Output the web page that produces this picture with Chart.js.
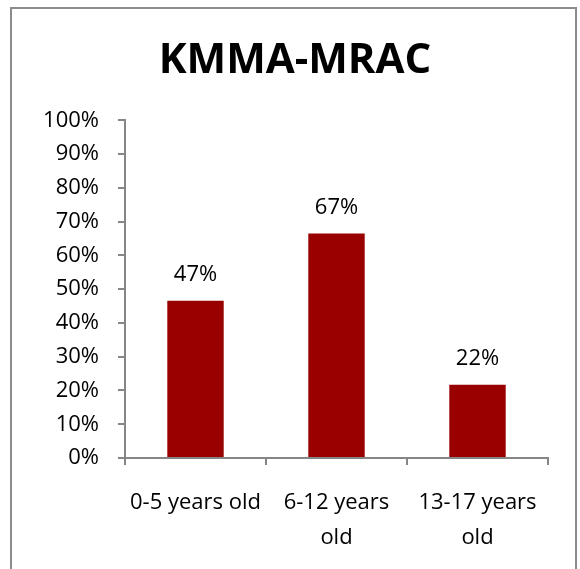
<!DOCTYPE html>
<html>
<head>
<meta charset="utf-8">
<script src="https://cdn.jsdelivr.net/npm/chart.js@4"></script>
<style>
  html, body { margin: 0; padding: 0; background: #fff; }
  #wrap { position: relative; width: 580px; height: 569px; overflow: hidden; }
  #frame { position: absolute; left: 10px; top: 7px; width: 563px; height: 600px; border: 2px solid #8c8c8c; }
  canvas { position: absolute; left: 0; top: 0; }
</style>
</head>
<body>
<div id="wrap">
  <div id="frame"></div>
  <canvas id="graph" width="580" height="569"></canvas>
</div>
<script>
var categories = [['0-5 years old'], ['6-12 years', 'old'], ['13-17 years', 'old']];
var values = [46.6, 66.5, 21.7];
var valueLabels = ['47%', '67%', '22%'];
var yTicks = [0, 10, 20, 30, 40, 50, 60, 70, 80, 90, 100];

var font = "'Open Sans', 'Liberation Sans', sans-serif";

// labels above bars
var barLabels = {
    id: 'barLabels',
    afterDatasetsDraw: function(chart) {
        var ctx = chart.ctx;
        var meta = chart.getDatasetMeta(0);
        ctx.save();
        ctx.font = '22px ' + font;
        ctx.fillStyle = '#000';
        ctx.textAlign = 'center';
        ctx.textBaseline = 'middle';
        meta.data.forEach(function(bar, i) {
            ctx.fillText(valueLabels[i], bar.x, bar.y - 26);
        });
        ctx.restore();
    }
};

var ctx = document.getElementById('graph');
var chart = new Chart(ctx, {
    type: 'bar',
    data: {
        labels: categories,
        datasets: [{
            data: values,
            backgroundColor: '#990000',
            categoryPercentage: 1,
            barPercentage: 0.4
        }]
    },
    options: {
        responsive: false,
        animation: false,
        layout: { padding: { left: 42, right: 32, top: 0, bottom: 0 } },
        plugins: {
            legend: { display: false },
            tooltip: { enabled: false },
            title: {
                display: true,
                text: 'KMMA-MRAC',
                color: '#000',
                font: { family: font, size: 42, weight: 'bold' },
                padding: { top: 36, bottom: 34 }
            }
        },
        scales: {
            x: {
                grid: { offset: true, drawOnChartArea: false, tickLength: 7, color: '#868686', lineWidth: 2 },
                border: { color: '#868686', width: 2 },
                ticks: { color: '#000', font: { family: font, size: 22, lineHeight: 1.6 }, padding: 20, maxRotation: 0 },
                afterFit: function(scale) { scale.height = 569 - 458; }
            },
            y: {
                min: 0,
                max: 100,
                afterBuildTicks: function(scale) {
                    scale.ticks = yTicks.map(function(v) { return { value: v }; });
                },
                grid: { drawOnChartArea: false, tickLength: 7, color: '#868686', lineWidth: 2 },
                border: { color: '#868686', width: 2 },
                ticks: {
                    color: '#000',
                    font: { family: font, size: 22 },
                    padding: 19,
                    callback: function(v) { return v + '%'; }
                },
                afterFit: function(scale) { scale.width = 83; }
            }
        }
    },
    plugins: [barLabels]
});
</script>
</body>
</html>
